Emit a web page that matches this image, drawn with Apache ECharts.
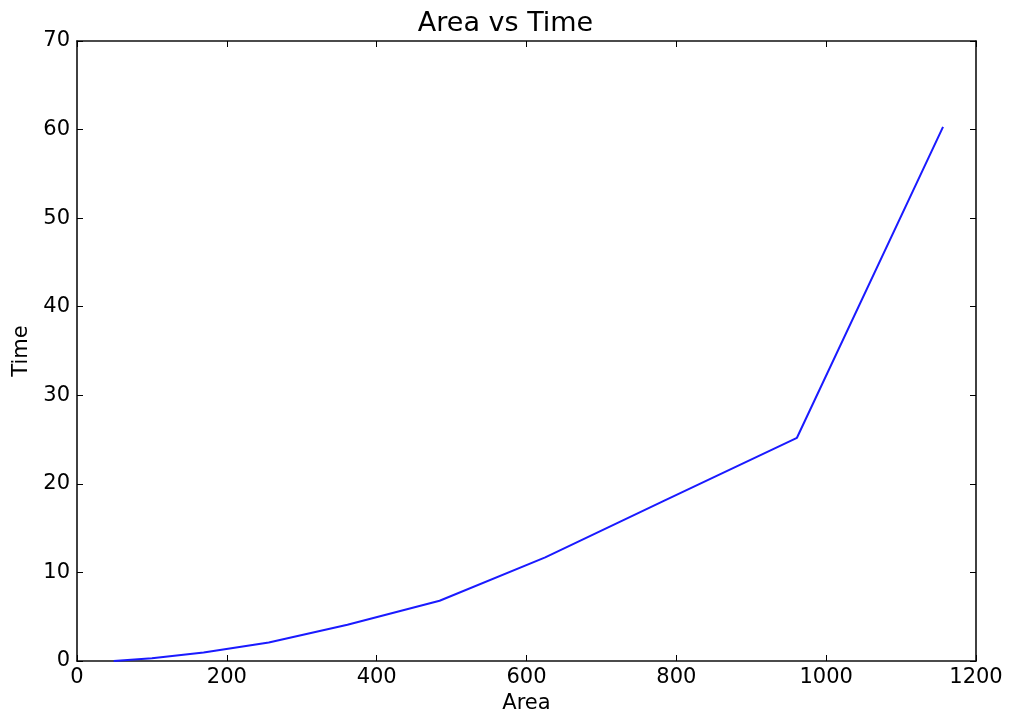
<!DOCTYPE html>
<html><head><meta charset="utf-8">
<script src="https://cdn.jsdelivr.net/npm/echarts@6/dist/echarts.min.js"></script>
<style>html,body{margin:0;padding:0;background:#fff}#c{width:1011px;height:713px}</style>
</head><body><div id="c"></div>
<script>
const areas = [49, 100, 169, 256, 361, 484, 625, 784, 961, 1156];
const times = [0.0, 0.3, 0.95, 2.1, 4.1, 6.8, 11.7, 18.1, 25.2, 60.3];
const xTicks = [0, 200, 400, 600, 800, 1000, 1200];
const yTicks = [0, 10, 20, 30, 40, 50, 60, 70];
const font = 'DejaVu Sans';
const chart = echarts.init(document.getElementById('c'), null, {renderer: 'canvas'});
const tick = {show: true, inside: true, length: 6, lineStyle: {color: '#000', width: 1}};
const line = {show: true, onZero: false, lineStyle: {color: '#111', width: 1.6}};
const lbl = {fontFamily: font, fontSize: 21, color: '#000'};
chart.setOption({
  animation: false,
  backgroundColor: '#fff',
  title: {text: 'Area vs Time', left: 'center', top: 5,
    textStyle: {fontFamily: font, fontSize: 27, fontWeight: 'normal', color: '#000'}},
  grid: {left: 77, top: 41, right: 35, bottom: 52, containLabel: false, outerBoundsMode: 'none'},
  xAxis: [
    {type: 'value', min: xTicks[0], max: xTicks[xTicks.length-1], interval: 200, position: 'bottom',
     name: 'Area', nameLocation: 'middle', nameGap: 29,
     nameTextStyle: lbl,
     axisLine: line, axisTick: tick, splitLine: {show: false},
     axisLabel: Object.assign({margin: 6, formatter: v => String(v)}, lbl)},
    {type: 'value', min: xTicks[0], max: xTicks[xTicks.length-1], interval: 200, position: 'top',
     axisLine: line, axisTick: tick, splitLine: {show: false}, axisLabel: {show: false}}
  ],
  yAxis: [
    {type: 'value', min: yTicks[0], max: yTicks[yTicks.length-1], interval: 10, position: 'left',
     name: 'Time', nameLocation: 'middle', nameGap: 44, nameRotate: 90,
     nameTextStyle: lbl,
     axisLine: line, axisTick: tick, splitLine: {show: false},
     axisLabel: Object.assign({margin: 7, formatter: v => String(v)}, lbl)},
    {type: 'value', min: yTicks[0], max: yTicks[yTicks.length-1], interval: 10, position: 'right',
     axisLine: line, axisTick: tick, splitLine: {show: false}, axisLabel: {show: false}}
  ],
  series: [{
    type: 'line', data: areas.map((a, i) => [a, times[i]]),
    showSymbol: false, symbol: 'none',
    lineStyle: {color: '#1a1aff', width: 2}
  }]
});
</script></body></html>
